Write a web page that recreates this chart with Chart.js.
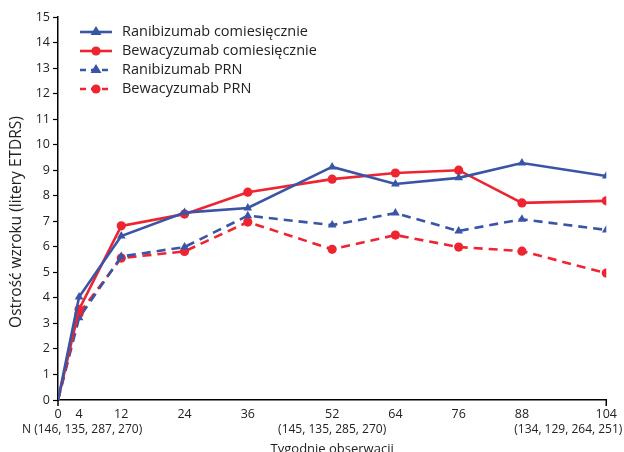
<!DOCTYPE html>
<html><head><meta charset="utf-8">
<script src="https://cdn.jsdelivr.net/npm/chart.js@4/dist/chart.umd.min.js"></script>
<style>html,body{margin:0;padding:0;background:#fff}#wrap{width:624px;height:452px}</style>
</head><body><div id="wrap"><canvas id="c" width="624" height="452"></canvas></div>
<script>
const weeks = [0, 4, 12, 24, 36, 52, 64, 76, 88, 104];
const xTickValues = [0, 4, 12, 24, 36, 52, 64, 76, 88, 104];
const yTickValues = [0,1,2,3,4,5,6,7,8,9,10,11,12,13,14,15];
const ranMonthly = [0, 4.03, 6.42, 7.34, 7.52, 9.13, 8.46, 8.70, 9.28, 8.77];
const bevMonthly = [0, 3.55, 6.82, 7.28, 8.14, 8.65, 8.89, 9.00, 7.72, 7.80];
const ranPRN = [0, 3.22, 5.62, 5.99, 7.22, 6.85, 7.32, 6.62, 7.08, 6.66];
const bevPRN = [0, 3.38, 5.56, 5.82, 6.97, 5.90, 6.46, 5.99, 5.83, 4.97];
const seriesNames = ["Ranibizumab comiesięcznie", "Bewacyzumab comiesięcznie", "Ranibizumab PRN", "Bewacyzumab PRN"];
const nLabels = [
  {week: 0, text: "N (146, 135, 287, 270)", align: "start"},
  {week: 52, text: "(145, 135, 285, 270)", align: "center"},
  {week: 104, text: "(134, 129, 264, 251)", align: "end"}
];
const xTitle = "Tygodnie obserwacji";
const yTitle = "Ostrość wzroku (litery ETDRS)";

const BLUE = "#3a55a6", RED = "#ee2431";
const FONT = "'Open Sans', 'Noto Sans', sans-serif";
function pts(arr){ return arr.map((v,i)=>({x: weeks[i], y: v})); }
function ds(label, data, color, style, dashed){
  return {label, data: pts(data), borderColor: color, backgroundColor: color,
    borderWidth: 2.6, pointStyle: style, pointRadius: data.map((v,i)=> i===0 ? 0 : (style==='triangle'?5:4.6)),
    pointBorderWidth: 0, borderDash: dashed ? [9,6] : [], tension: 0, fill: false};
}
const styles = [[BLUE,'triangle',false],[RED,'circle',false],[BLUE,'triangle',true],[RED,'circle',true]];
const allData = [ranMonthly, bevMonthly, ranPRN, bevPRN];

const extras = {
  id: 'extras',
  afterDraw(chart){
    const ctx = chart.ctx, xs = chart.scales.x, ys = chart.scales.y;
    ctx.save();
    ctx.fillStyle = "#222";
    ctx.font = "12px " + FONT;
    ctx.textBaseline = "middle";
    nLabels.forEach(n=>{
      const px = xs.getPixelForValue(n.week);
      let x = px;
      if (n.align === "start") x = px - 36;
      if (n.align === "end") x = px - 92;
      ctx.textAlign = n.align === "center" ? "center" : "left";
      ctx.fillText(n.text, x, 430);
    });
    ctx.textAlign = "center";
    ctx.font = "13px " + FONT;
    ctx.fillText(xTitle, xs.getPixelForValue(52), 449);
    // y title
    ctx.save();
    ctx.translate(17, 222);
    ctx.rotate(-Math.PI/2);
    ctx.font = "15.5px " + FONT;
    ctx.fillText(yTitle, 0, 0);
    ctx.restore();
    // end ticks at 0 and 104
    ctx.strokeStyle = "#000"; ctx.lineWidth = 1.5;
    [0, 104].forEach(w=>{
      const ex = xs.getPixelForValue(w);
      ctx.beginPath(); ctx.moveTo(ex, ys.bottom); ctx.lineTo(ex, ys.bottom + 6); ctx.stroke();
    });
    // legend
    ctx.font = "14.5px " + FONT;
    ctx.textAlign = "left";
    const rows = [32, 51, 70, 89];
    styles.forEach((s, i)=>{
      const y = rows[i];
      ctx.strokeStyle = s[0]; ctx.fillStyle = s[0]; ctx.lineWidth = 2.6;
      ctx.setLineDash(s[2] ? [6,5] : []);
      ctx.beginPath(); ctx.moveTo(80, y); ctx.lineTo(112, y); ctx.stroke();
      ctx.setLineDash([]);
      if (s[1] === 'circle') { ctx.beginPath(); ctx.arc(96, y, 4.6, 0, Math.PI*2); ctx.fill(); }
      else { ctx.beginPath(); ctx.moveTo(96, y-6); ctx.lineTo(101.5, y+3); ctx.lineTo(90.5, y+3); ctx.closePath(); ctx.fill(); }
      ctx.fillStyle = "#222";
      ctx.fillText(seriesNames[i], 122, y);
    });
    ctx.restore();
  }
};

new Chart(document.getElementById('c'), {
  type: 'line',
  data: { datasets: allData.map((d,i)=>ds(seriesNames[i], d, styles[i][0], styles[i][1], styles[i][2])) },
  options: {
    responsive: false, animation: false, maintainAspectRatio: false,
    layout: { padding: { left: 0, right: 13, top: 17, bottom: 0 } },
    plugins: { legend: { display: false }, tooltip: { enabled: false } },
    scales: {
      x: { type: 'linear', min: 0, max: 104,
        afterBuildTicks(s){ s.ticks = xTickValues.map(v=>({value: v})); },
        afterFit(s){ s.height = 52; },
        grid: { display: true, drawOnChartArea: false, drawTicks: false },
        border: { color: "#000", width: 1.5 },
        ticks: { color: "#222", font: { family: FONT, size: 12.5 }, padding: 7, maxRotation: 0, autoSkip: false }
      },
      y: { min: 0, max: 15,
        afterBuildTicks(s){ s.ticks = yTickValues.map(v=>({value: v})); },
        afterFit(s){ s.width = 58; },
        grid: { display: true, drawOnChartArea: false, drawTicks: true, tickLength: 5, color: "#000", tickWidth: 1.2 },
        border: { color: "#000", width: 1.5 },
        ticks: { color: "#222", font: { family: FONT, size: 12.5 }, padding: 3 }
      }
    }
  },
  plugins: [extras]
});
</script></body></html>
